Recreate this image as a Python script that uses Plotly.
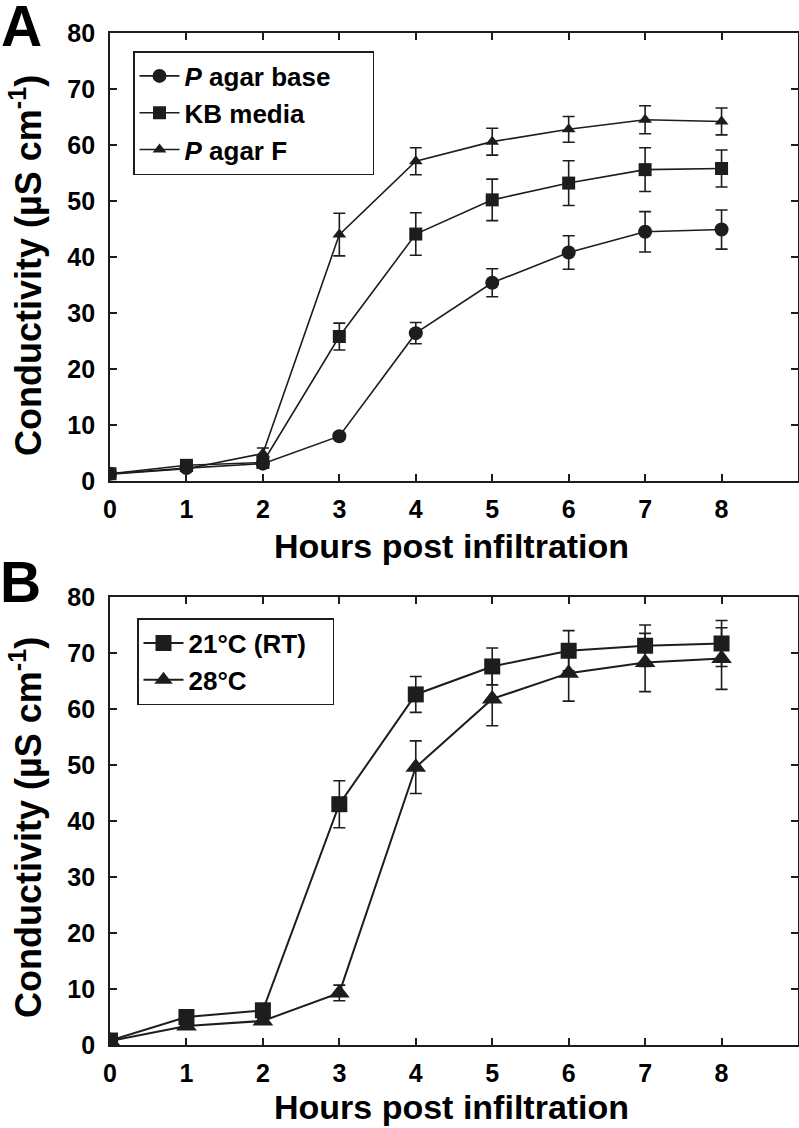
import plotly.graph_objects as go

hours = [0, 1, 2, 3, 4, 5, 6, 7, 8]
x_ticks = [0, 1, 2, 3, 4, 5, 6, 7, 8]
y_ticks = [0, 10, 20, 30, 40, 50, 60, 70, 80]

# Panel A
pagar_base = [1.3, 2.3, 3.1, 8.0, 26.4, 35.4, 40.8, 44.5, 44.9]
pagar_base_err = [0.3, 0.4, 0.5, 0.6, 1.9, 2.5, 3.0, 3.6, 3.5]
kb_media = [1.3, 2.8, 3.3, 25.8, 44.1, 50.2, 53.2, 55.6, 55.8]
kb_media_err = [0.3, 0.5, 0.5, 2.4, 3.8, 3.7, 4.0, 3.9, 3.3]
pagar_f = [1.2, 2.2, 4.9, 44.0, 57.1, 60.6, 62.8, 64.5, 64.2]
pagar_f_err = [0.3, 0.4, 1.0, 3.8, 2.4, 2.4, 2.3, 2.5, 2.4]

# Panel B
rt21 = [0.8, 5.0, 6.2, 43.0, 62.6, 67.6, 70.4, 71.3, 71.7]
rt21_err = [0.3, 0.6, 0.6, 4.2, 3.2, 3.3, 3.6, 3.7, 4.1]
t28 = [0.7, 3.4, 4.3, 9.3, 49.6, 61.8, 66.4, 68.3, 69.0]
t28_err = [0.3, 0.5, 0.5, 1.4, 4.7, 4.8, 5.0, 5.2, 5.5]

INK = "#1e1c1c"
FONT = "Liberation Sans"

W, H = 799, 1128
L, R, T, B = 110, 798, 33, 1045
PW, PH = R - L, B - T


def px_x(x):
    return (x - L) / PW


def px_y(y):
    return (B - y) / PH


fig = go.Figure()


def add(x, y, err, name, symbol, size, yaxis, legend, lw):
    fig.add_trace(go.Scatter(
        x=x, y=y, name=name, mode="lines+markers",
        xaxis="x" if yaxis == "y" else "x2", yaxis=yaxis, legend=legend,
        line=dict(color=INK, width=lw),
        marker=dict(symbol=symbol, size=size, color=INK),
        error_y=dict(type="data", array=err, visible=True, color=INK,
                     thickness=1.6, width=6),
    ))


NB = "\u00a0"
add(hours, pagar_base, pagar_base_err, "<i>P</i> agar base" + NB * 5, "circle", 14, "y", "legend", 1.6)
add(hours, kb_media, kb_media_err, "KB media", "square", 13, "y", "legend", 1.6)
add(hours, pagar_f, pagar_f_err, "<i>P</i> agar F", "triangle-up", 12, "y", "legend", 1.6)
add(hours, rt21, rt21_err, "21°C (RT)" + NB * 3, "square", 16, "y2", "legend2", 2)
add(hours, t28, t28_err, "28°C", "triangle-up", 18, "y2", "legend2", 2)

axis_common = dict(
    showline=True, linecolor=INK, linewidth=1.8, mirror="ticks",
    ticks="inside", ticklen=7, tickwidth=1.6, tickcolor=INK,
    showgrid=False, zeroline=False, automargin=False,
    tickfont=dict(family=FONT, size=25, color="black", weight="bold"),
)

xa = dict(axis_common, range=[0, 9], tickvals=x_ticks,
          ticktext=[str(v) for v in x_ticks], ticklabelstandoff=5)
ya = dict(axis_common, range=[0, 80], tickvals=y_ticks,
          ticktext=[str(v) for v in y_ticks], ticklabelstandoff=8)

leg_font = dict(family=FONT, size=26, color="black", weight="bold")

fig.update_layout(
    width=W, height=H,
    paper_bgcolor="white", plot_bgcolor="white",
    margin=dict(l=L, r=W - R, t=T, b=H - B, autoexpand=False),
    xaxis=dict(xa, domain=[0, 1], anchor="y"),
    yaxis=dict(ya, domain=[px_y(481), 1], anchor="x"),
    xaxis2=dict(xa, domain=[0, 1], anchor="y2"),
    yaxis2=dict(ya, domain=[0, px_y(597)], anchor="x2"),
    legend=dict(x=px_x(133), y=px_y(51), xanchor="left", yanchor="top",
                bordercolor=INK, borderwidth=1.5, bgcolor="white",
                font=leg_font, tracegroupgap=0, itemwidth=40),
    legend2=dict(x=px_x(137), y=px_y(618), xanchor="left", yanchor="top",
                 bordercolor=INK, borderwidth=1.5, bgcolor="white",
                 font=leg_font, tracegroupgap=0, itemwidth=40),
    showlegend=True,
)

title_font = dict(family=FONT, size=34, color="black", weight="bold")
ytitle_font = dict(family=FONT, size=36, color="black", weight="bold")
ann = []
# x titles
ann.append(dict(text="Hours post infiltration", xref="paper", yref="paper",
                x=px_x(451), y=px_y(546), showarrow=False, font=title_font,
                xanchor="center", yanchor="middle"))
ann.append(dict(text="Hours post infiltration", xref="paper", yref="paper",
                x=px_x(451), y=px_y(1107), showarrow=False, font=title_font,
                xanchor="center", yanchor="middle"))
# y titles
ann.append(dict(text="Conductivity (µS cm<sup>-1</sup>)", xref="paper", yref="paper",
                x=px_x(26), y=px_y(266), textangle=-90,
                showarrow=False, font=ytitle_font, xanchor="center", yanchor="middle"))
ann.append(dict(text="Conductivity (µS cm<sup>-1</sup>)", xref="paper", yref="paper",
                x=px_x(26), y=px_y(828), textangle=-90,
                showarrow=False, font=ytitle_font, xanchor="center", yanchor="middle"))
# panel letters
letter_font = dict(family=FONT, size=57, color="black", weight="bold")
ann.append(dict(text="A", xref="paper", yref="paper", x=px_x(21), y=px_y(26),
                showarrow=False, font=letter_font, xanchor="center", yanchor="middle"))
ann.append(dict(text="B", xref="paper", yref="paper", x=px_x(20), y=px_y(582),
                showarrow=False, font=letter_font, xanchor="center", yanchor="middle"))
fig.update_layout(annotations=ann)

fig.write_html("out.html", config={"displayModeBar": False},
               post_script="document.body.style.margin='0';")
